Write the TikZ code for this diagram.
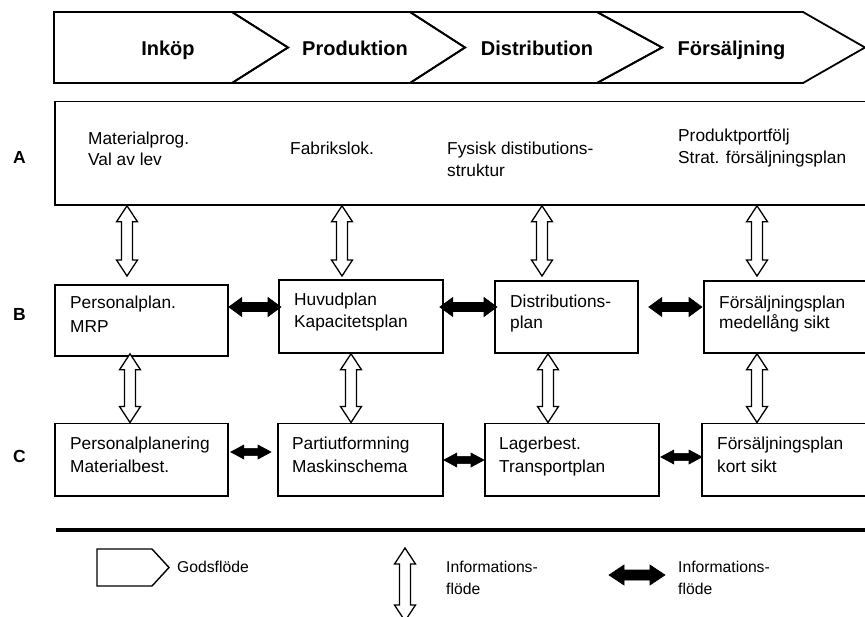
\documentclass[tikz,border=0pt]{standalone}
\usepackage{fontspec}
\setmainfont{Liberation Sans}
\usetikzlibrary{calc}
\begin{document}
\begin{tikzpicture}[x=1pt,y=-1pt,
  % rectangular planning boxes
  box/.style={draw, line width=1.8pt, inner sep=0pt, anchor=north west},
  % left-aligned box text, placed by the baseline of its last line
  lbl/.style={inner sep=0pt, anchor=base west, align=left,
    font=\fontsize{17.3}{#1}\selectfont},
  lbl/.default=22.5,
  legtext/.style={inner sep=0pt, anchor=base west, align=left,
    font=\fontsize{15.7}{22}\selectfont},
  stage/.style={inner sep=0pt, anchor=base, font=\fontsize{20}{24}\selectfont\bfseries},
  rowlabel/.style={inner sep=0pt, anchor=base, font=\fontsize{17.5}{20}\selectfont\bfseries},
  chevron/.style={draw, line width=1.8pt, line join=miter},
  % arrow geometry parameters
  ahl/.store in=\ahl, ahw/.store in=\ahw, asw/.store in=\asw,
  ahl=13pt, ahw=9.5pt, asw=4.5pt,
  % hollow vertical double arrow (information flow between levels)
  vinfo/.style={draw=black, fill=white, line width=1.3pt, line join=miter,
    to path={let \p1=(\tikztostart), \p2=(\tikztotarget) in
      -- (\x1+10.5pt,\y1-16pt) -- (\x1+5.5pt,\y1-16pt) -- (\x1+5.5pt,\y2+16pt)
      -- (\x1+10.5pt,\y2+16pt) -- (\x1,\y2) -- (\x1-10.5pt,\y2+16pt)
      -- (\x1-5.5pt,\y2+16pt) -- (\x1-5.5pt,\y1-16pt) -- (\x1-10.5pt,\y1-16pt) -- cycle}},
  % solid black horizontal double arrow (information flow within a level)
  hinfo/.style={draw=black, fill=black, line width=0.6pt, line join=miter,
    to path={let \p1=(\tikztostart), \p2=(\tikztotarget) in
      -- (\x1+\ahl,\y1+\ahw) -- (\x1+\ahl,\y1+\asw) -- (\x2-\ahl,\y1+\asw)
      -- (\x2-\ahl,\y1+\ahw) -- (\x2,\y1) -- (\x2-\ahl,\y1-\ahw)
      -- (\x2-\ahl,\y1-\asw) -- (\x1+\ahl,\y1-\asw) -- (\x1+\ahl,\y1-\ahw) -- cycle}},
]
\useasboundingbox (0,0) rectangle (865,616);
\fill[white] (0,0) rectangle (865,616);
\clip (0,0) rectangle (865,616);

% ---- flow of goods (chevrons) ----
\draw[chevron] (54,12) -- (232,12) -- (288,47.5) -- (232,83) -- (54,83) -- cycle;
\draw[chevron] (232,12) -- (410,12) -- (465,47.5) -- (410,83) -- (232,83) -- (288,47.5) -- cycle;
\draw[chevron] (410,12) -- (597,12) -- (662,47.5) -- (597,83) -- (410,83) -- (465,47.5) -- cycle;
\draw[chevron] (597,12) -- (803,12) -- (865,47.5) -- (803,83) -- (597,83) -- (662,47.5) -- cycle;
\node[stage] (s1) at (168,55) {Inköp};
\node[stage] (s2) at (355,55) {Produktion};
\node[stage] (s3) at (537,55) {Distribution};
\node[stage] (s4) at (731.5,55) {Försäljning};

% ---- level labels ----
\node[rowlabel] (lA) at (19.5,163) {A};
\node[rowlabel] (lB) at (19.5,320) {B};
\node[rowlabel] (lC) at (19.5,462) {C};

% ---- level A ----
\node[box, minimum width=840pt, minimum height=103.5pt] (A) at (54,100.5) {};
\node[lbl=21.5] (a1) at (88,165.5) {Materialprog.\\Val av lev};
\node[lbl] (a2) at (290,154.5) {Fabrikslok.};
\node[lbl=21.5] (a3) at (447,176) {Fysisk distibutions-\\struktur};
\node[lbl=22] (a4) at (678,163) {Produktportfölj\\Strat. försäljningsplan};

% ---- level B ----
\node[box, minimum width=173pt, minimum height=71pt] (B1) at (54,284) {};
\node[box, minimum width=164pt, minimum height=73pt] (B2) at (278,279) {};
\node[box, minimum width=143pt, minimum height=72pt] (B3) at (494,280) {};
\node[box, minimum width=190pt, minimum height=72pt] (B4) at (703,280) {};
\node[lbl=24.5] (b1) at (70,332.8) {Personalplan.\\MRP};
\node[lbl=22.5] (b2) at (294,327.8) {Huvudplan\\Kapacitetsplan};
\node[lbl=20.5] (b3) at (510,328.2) {Distributions-\\plan};
\node[lbl=20.5] (b4) at (719,328.5) {Försäljningsplan\\medellång sikt};

% ---- level C ----
\node[box, minimum width=173pt, minimum height=72.5pt] (C1) at (54,422.5) {};
\node[box, minimum width=165pt, minimum height=72.5pt] (C2) at (277,422.5) {};
\node[box, minimum width=174pt, minimum height=72.5pt] (C3) at (484,422.5) {};
\node[box, minimum width=190pt, minimum height=72.5pt] (C4) at (701,422.5) {};
\node[lbl=23] (c1) at (70,472) {Personalplanering\\Materialbest.};
\node[lbl=23] (c2) at (292,472) {Partiutformning\\Maskinschema};
\node[lbl=23] (c3) at (499,472.5) {Lagerbest.\\Transportplan};
\node[lbl=23] (c4) at (717,472) {Försäljningsplan\\kort sikt};

% ---- vertical information flow A <-> B ----
\coordinate (ABtip) at (0,276);
\draw[vinfo] (127,0 |- A.south) to (127,0 |- ABtip);
\draw[vinfo] (342,0 |- A.south) to (342,0 |- ABtip);
\draw[vinfo] (542,0 |- A.south) to (542,0 |- ABtip);
\draw[vinfo] (757,0 |- A.south) to (757,0 |- ABtip);

% ---- vertical information flow B <-> C ----
\draw[vinfo] (130,0 |- B2.south) to (130,0 |- C1.north);
\draw[vinfo] (351,0 |- B2.south) to (351,0 |- C2.north);
\draw[vinfo] (548,0 |- B3.south) to (548,0 |- C3.north);
\draw[vinfo] (757,0 |- B4.south) to (757,0 |- C4.north);

% ---- horizontal information flow within B ----
\draw[hinfo] (B1.east |- 0,307) to ($(B2.west |- 0,307)+(3,0)$);
\draw[hinfo] ($(B2.east |- 0,307)+(-4,0)$) to ($(B3.west |- 0,307)+(3,0)$);
\draw[hinfo] ($(B3.east |- 0,307)+(10,0)$) to ($(B4.west |- 0,307)+(-1,0)$);

% ---- horizontal information flow within C ----
\draw[hinfo, ahl=13pt, ahw=7pt, asw=3.6pt] ($(C1.east |- 0,452)+(2,0)$) to ($(C2.west |- 0,452)+(-6,0)$);
\draw[hinfo, ahl=13pt, ahw=7pt, asw=3.6pt] (C2.east |- 0,460) to (C3.west |- 0,460);
\draw[hinfo, ahl=13pt, ahw=7pt, asw=3.6pt] ($(C3.east |- 0,457)+(1,0)$) to ($(C4.west |- 0,457)+(1,0)$);

% ---- separator ----
\coordinate (sepL) at (56,530);
\coordinate (sepR) at (880,530);
\draw[line width=4pt] (sepL) -- (sepR);

% ---- legend ----
\draw[line width=1.4pt, line join=miter] (97,549) -- (152,549) -- (169,567.5) -- (152,586) -- (97,586) -- cycle;
\node[legtext] (g1) at (177,572.7) {Godsflöde};
\coordinate (lv1) at (405,548);
\coordinate (lv2) at (405,621);
\draw[vinfo] (lv1) to (lv2);
\node[legtext] (g2) at (446,594.7) {Informations-\\flöde};
\coordinate (lh1) at (609,575);
\coordinate (lh2) at (665,575);
\draw[hinfo, ahl=15pt, ahw=10pt, asw=5pt] (lh1) to (lh2);
\node[legtext] (g3) at (678,594.7) {Informations-\\flöde};
\end{tikzpicture}
\end{document}
